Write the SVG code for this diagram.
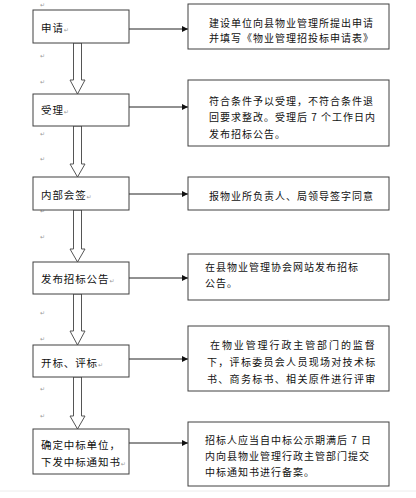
<svg xmlns="http://www.w3.org/2000/svg" width="416" height="498" viewBox="0 0 416 498">
<defs>
<style>
.box{fill:#fff;stroke:#404040;stroke-width:1}
.lt{font-family:"Noto Sans CJK SC","Noto Sans CJK JP",sans-serif;font-size:10.5px;letter-spacing:0.9px;fill:#111}
.rt{font-family:"Noto Sans CJK SC","Noto Sans CJK JP",sans-serif;font-size:10px;letter-spacing:1px;fill:#111}
.pm{font-family:"DejaVu Sans",sans-serif;font-size:6px;fill:#9a9a9a}
.conn{stroke:#222;stroke-width:1;fill:none}
.blk{fill:#fff;stroke:#555;stroke-width:1}
</style>
<marker id="ah" viewBox="0 0 8 8" refX="8" refY="4" markerWidth="6" markerHeight="6" markerUnits="userSpaceOnUse" orient="auto">
<path d="M0,0 L8,4 L0,8 z" fill="#111"/>
</marker>
</defs>
<rect width="416" height="498" fill="#fff"/>
<line x1="0" y1="491" x2="416" y2="491" stroke="#ececec" stroke-width="1"/>

<g id="marks" class="pm">
<text x="40" y="7">↵</text>
<text x="40" y="58">↵</text>
<text x="40" y="84">↵</text>
<text x="40" y="136">↵</text>
<text x="40" y="161">↵</text>
<text x="40" y="213">↵</text>
<text x="40" y="239">↵</text>
<text x="40" y="315">↵</text>
<text x="40" y="341">↵</text>
<text x="40" y="391">↵</text>
<text x="40" y="418">↵</text>
</g>

<g id="connectors">
<path class="blk" d="M73.5,43 H81.5 V80 H85 L77.5,94 L70,80 H73.5 Z"/>
<path class="blk" d="M73.5,126 H81.5 V164 H85 L77.5,177 L70,164 H73.5 Z"/>
<path class="blk" d="M73.5,210 H81.5 V249 H85 L77.5,262 L70,249 H73.5 Z"/>
<path class="blk" d="M73.5,294 H81.5 V331 H85 L77.5,345 L70,331 H73.5 Z"/>
<path class="blk" d="M73.5,377 H81.5 V416 H85 L77.5,429 L70,416 H73.5 Z"/>
<line class="conn" x1="129" y1="29" x2="188" y2="29" marker-end="url(#ah)"/>
<line class="conn" x1="129" y1="107" x2="188" y2="107" marker-end="url(#ah)"/>
<line class="conn" x1="129" y1="194" x2="188" y2="194" marker-end="url(#ah)"/>
<line class="conn" x1="129" y1="278" x2="188" y2="278" marker-end="url(#ah)"/>
<line class="conn" x1="129" y1="359" x2="188" y2="359" marker-end="url(#ah)"/>
<line class="conn" x1="129" y1="443" x2="188" y2="443" marker-end="url(#ah)"/>
</g>

<g id="n1"><rect class="box" x="33" y="10" width="96" height="33"/><text class="lt" x="41" y="32">申请<tspan class="pm">↵</tspan></text></g>
<g id="n2"><rect class="box" x="33" y="94" width="96" height="32"/><text class="lt" x="41" y="114">受理<tspan class="pm">↵</tspan></text></g>
<g id="n3"><rect class="box" x="33" y="177" width="96" height="33"/><text class="lt" x="41" y="199">内部会签<tspan class="pm">↵</tspan></text></g>
<g id="n4"><rect class="box" x="33" y="262" width="96" height="32"/><text class="lt" x="41" y="283">发布招标公告<tspan class="pm">↵</tspan></text></g>
<g id="n5"><rect class="box" x="33" y="345" width="96" height="32"/><text class="lt" x="41" y="367">开标、评标<tspan class="pm">↵</tspan></text></g>
<g id="n6"><rect class="box" x="33" y="429" width="96" height="45"/><text class="lt" x="41" y="449">确定中标单位，</text><text class="lt" x="41" y="466">下发中标通知书<tspan class="pm">↵</tspan></text></g>

<g id="r1"><rect class="box" x="188" y="4" width="201" height="45"/>
<text class="rt" x="209" y="27">建设单位向县物业管理所提出申请</text>
<text class="rt" x="209" y="42">并填写《物业管理招投标申请表》</text></g>
<g id="r2"><rect class="box" x="188" y="80" width="201" height="66"/>
<text class="rt" x="209" y="105">符合条件予以受理，不符合条件退</text>
<text class="rt" x="209" y="121">回要求整改。受理后 7 个工作日内</text>
<text class="rt" x="209" y="138">发布招标公告。</text></g>
<g id="r3"><rect class="box" x="188" y="177" width="201" height="33"/>
<text class="rt" x="209" y="200">报物业所负责人、局领导签字同意</text></g>
<g id="r4"><rect class="box" x="188" y="254" width="201" height="46"/>
<text class="rt" x="205" y="271">在县物业管理协会网站发布招标</text>
<text class="rt" x="205" y="287">公告。</text></g>
<g id="r5"><rect class="box" x="188" y="326" width="201" height="65"/>
<text class="rt" x="210" y="349" style="letter-spacing:1.9px">在物业管理行政主管部门的监督</text>
<text class="rt" x="207" y="366" style="letter-spacing:1.3px">下，评标委员会人员现场对技术标</text>
<text class="rt" x="207" y="383" style="letter-spacing:1.3px">书、商务标书、相关原件进行评审</text></g>
<g id="r6"><rect class="box" x="188" y="422" width="201" height="64"/>
<text class="rt" x="205" y="444">招标人应当自中标公示期满后 7 日</text>
<text class="rt" x="205" y="460">内向县物业管理行政主管部门提交</text>
<text class="rt" x="205" y="476">中标通知书进行备案。</text></g>
</svg>
